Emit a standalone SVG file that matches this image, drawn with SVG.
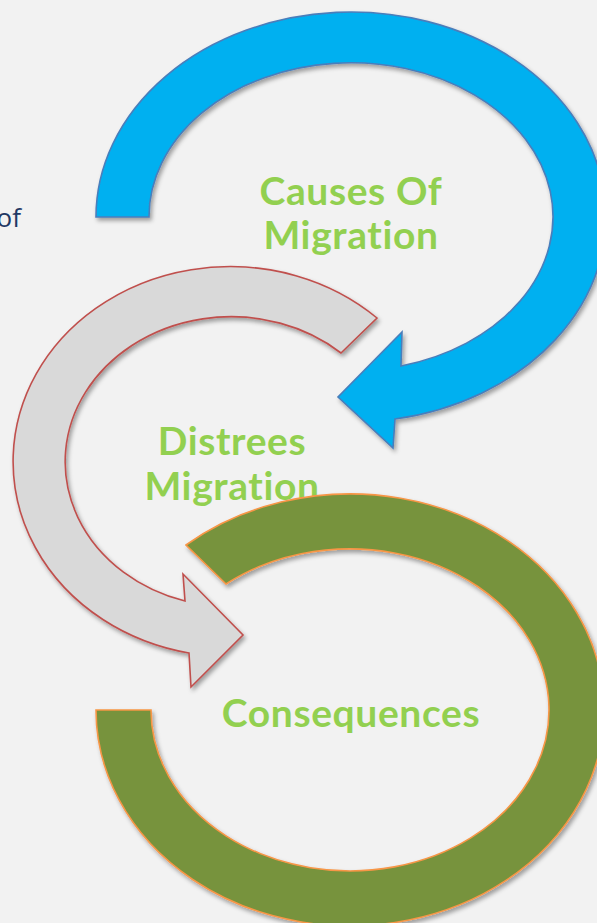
<svg xmlns="http://www.w3.org/2000/svg" width="597" height="923" viewBox="0 0 597 923">
  <style>
    .label { font-family: Lato, "Open Sans", "Liberation Sans", sans-serif; font-weight: 700; fill: #92d050; text-anchor: middle; font-variant-ligatures: none; letter-spacing: 0.6px; }
    .blue { fill: #00b0f0; stroke: #4a7ebb; stroke-width: 1.6; stroke-linejoin: miter; }
    .gray { fill: #d9d9d9; stroke: #c0504d; stroke-width: 1.6; stroke-linejoin: miter; }
    .green { fill: #77933c; stroke: #f79646; stroke-width: 1.6; stroke-linejoin: miter; }
  </style>
  <defs>
    <filter id="shadow" x="-10%" y="-10%" width="120%" height="120%">
      <feDropShadow dx="2" dy="3" stdDeviation="2" flood-color="#000" flood-opacity="0.35"/>
    </filter>
  </defs>

  <rect width="597" height="923" fill="#f2f2f2"/>

  <!-- trailing word of a text line that runs off the left edge -->
  <text x="21" y="227" font-family="'Open Sans', 'Liberation Sans', sans-serif" font-size="26" fill="#1f3864" text-anchor="end">of</text>

  <g id="connectors">
    <!-- blue curved arrow: over the top, ending in a head pointing down-left -->
    <g id="causes-arrow">
      <path class="blue" filter="url(#shadow)"
        d="M96,217 A255,205 0 1 1 395,419 L393,448 L338,397 L402,332 L401,366 A202,154 0 1 0 149,217 Z"/>
    </g>
  </g>

  <g id="causes">
    <text class="label" x="351" y="205" font-size="39">Causes Of</text>
    <text class="label" x="351" y="249" font-size="39">Migration</text>
  </g>

  <g id="distress-arrow">
    <!-- grey curved arrow: round the left side, head pointing right -->
    <path class="gray" filter="url(#shadow)"
      d="M377,318 A217,195 0 1 0 189,653 L191,687 L243,635 L183,574 L185,601 A166,145 0 1 1 341,353 Z"/>
  </g>

  <g id="distress">
    <text class="label" x="232" y="455" font-size="39">Distrees</text>
    <text class="label" x="232" y="500" font-size="39">Migration</text>
  </g>

  <g id="consequences-arc">
    <!-- green block arc, open at the upper left -->
    <path class="green" filter="url(#shadow)"
      d="M96,710 A254,216 0 1 0 186,545 L226,584 A199,161 0 1 1 151,710 Z"/>
  </g>

  <g id="consequences">
    <text class="label" x="351" y="727" font-size="39">Consequences</text>
  </g>
</svg>
